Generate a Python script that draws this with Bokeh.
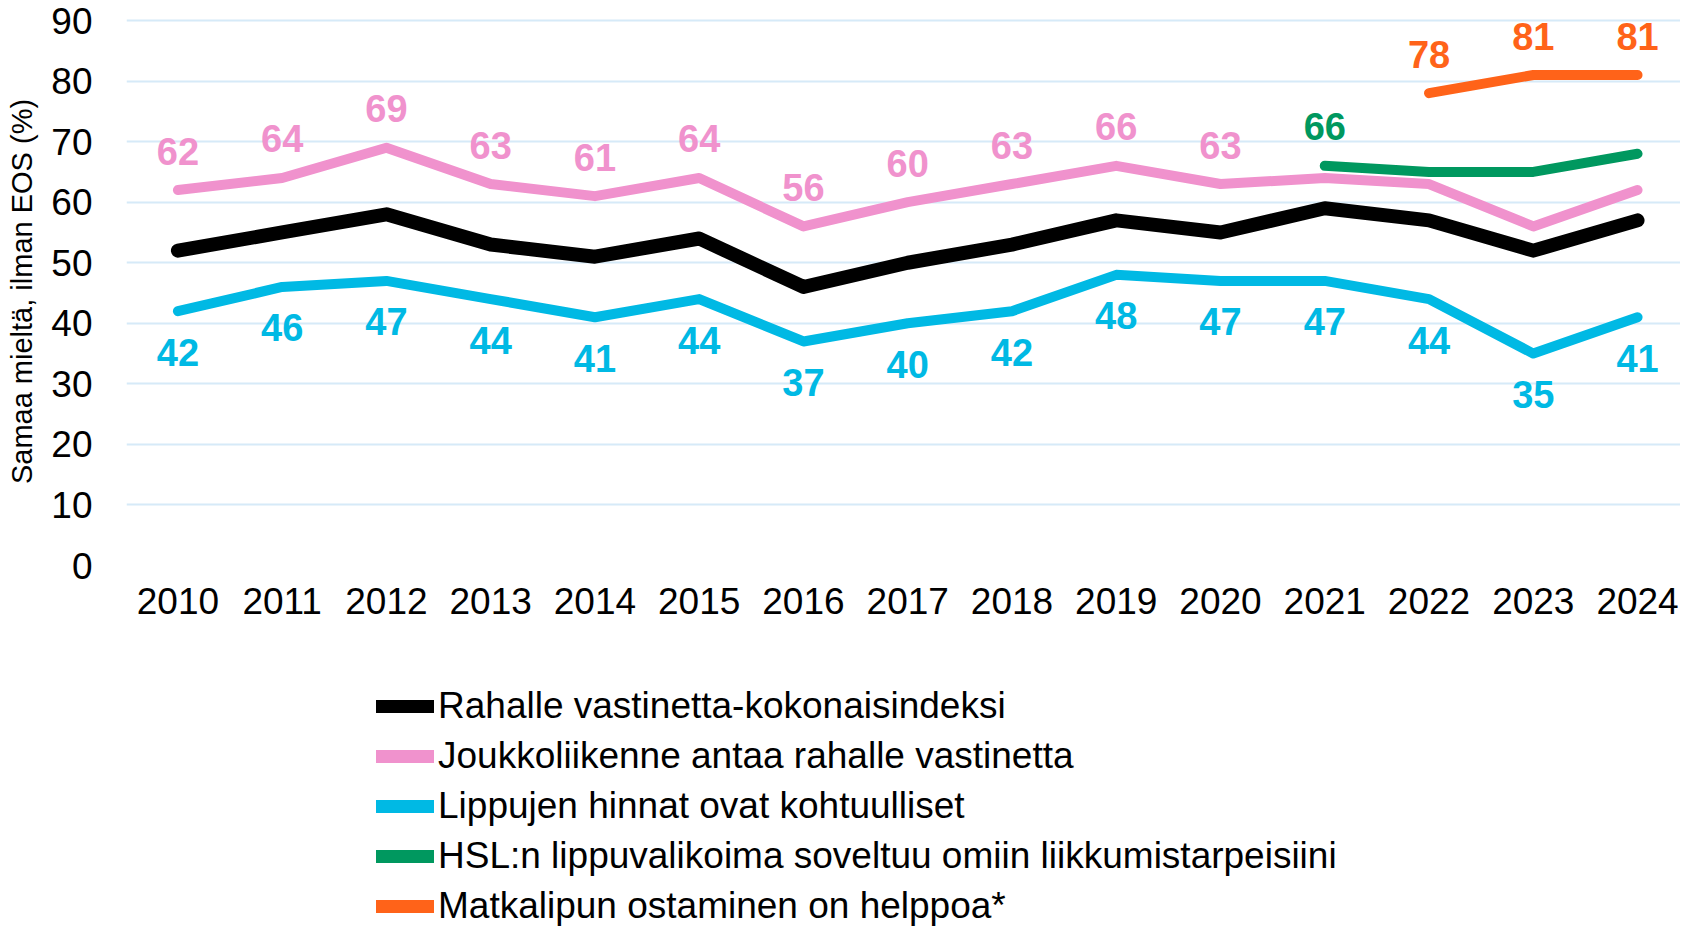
from bokeh.plotting import figure
from bokeh.layouts import column
from bokeh.models import Range1d, FixedTicker, Legend, LegendItem
from bokeh.embed import file_html
from bokeh.resources import INLINE
from bokeh.core.properties import value

# ---- data ----
years = [2010, 2011, 2012, 2013, 2014, 2015, 2016, 2017, 2018, 2019, 2020, 2021, 2022, 2023, 2024]
index_vals = [52, 55, 58, 53, 51, 54, 46, 50, 53, 57, 55, 59, 57, 52, 57]
value_vals = [62, 64, 69, 63, 61, 64, 56, 60, 63, 66, 63, 64, 63, 56, 62]
price_vals = [42, 46, 47, 44, 41, 44, 37, 40, 42, 48, 47, 47, 44, 35, 41]
range_years = [2021, 2022, 2023, 2024]
range_vals = [66, 65, 65, 68]
buy_years = [2022, 2023, 2024]
buy_vals = [78, 81, 81]

value_label_years = years[:11]
value_label_vals = value_vals[:11]
range_label_years = range_years[:1]
range_label_vals = range_vals[:1]

y_ticks = [0, 10, 20, 30, 40, 50, 60, 70, 80, 90]

names = [
    "Rahalle vastinetta-kokonaisindeksi",
    "Joukkoliikenne antaa rahalle vastinetta",
    "Lippujen hinnat ovat kohtuulliset",
    "HSL:n lippuvalikoima soveltuu omiin liikkumistarpeisiini",
    "Matkalipun ostaminen on helppoa*",
]

BLACK = "#000000"
PINK = "#F092CD"
CYAN = "#00B9E4"
GREEN = "#00985F"
ORANGE = "#FF6319"
GRID = "#D6EAF8"
FONT = "Liberation Sans"

series = [
    (years, index_vals, BLACK, 14),
    (years, value_vals, PINK, 10),
    (years, price_vals, CYAN, 10),
    (range_years, range_vals, GREEN, 10),
    (buy_years, buy_vals, ORANGE, 10),
]

W = 1680
p = figure(
    width=W, height=660,
    x_range=Range1d(2009.507, 2024.412),
    y_range=Range1d(0, 90.5),
    output_backend="svg", toolbar_location=None,
    min_border_left=126, min_border_right=0, min_border_top=17, min_border_bottom=95,
)
p.outline_line_color = None
p.background_fill_color = "white"
p.border_fill_color = "white"

p.xgrid.grid_line_color = None
p.ygrid.grid_line_color = GRID
p.ygrid.grid_line_width = 2
p.ygrid.ticker = FixedTicker(ticks=y_ticks)

p.yaxis.ticker = FixedTicker(ticks=y_ticks)
p.xaxis.ticker = FixedTicker(ticks=years)
for ax in (p.xaxis, p.yaxis):
    ax.axis_line_color = None
    ax.major_tick_line_color = None
    ax.minor_tick_line_color = None
    ax.major_tick_out = 0
    ax.major_tick_in = 0
    ax.major_label_text_font = FONT
    ax.major_label_text_font_size = "37px"
    ax.major_label_text_color = "#000000"
p.yaxis.major_label_standoff = 34
p.xaxis.major_label_standoff = 22
p.yaxis.axis_label = "Samaa mieltä, ilman EOS (%)"
p.yaxis.axis_label_text_font = FONT
p.yaxis.axis_label_text_font_size = "29px"
p.yaxis.axis_label_text_font_style = "normal"
p.yaxis.axis_label_text_color = "#000000"
p.yaxis.axis_label_standoff = 10

kw = dict(line_cap="round", line_join="round")
for xs, ys, c, w in series:
    p.line(xs, ys, line_color=c, line_width=w, **kw)

tkw = dict(text_font=value(FONT), text_font_size="38px", text_font_style="bold",
           text_align="center", text_baseline="middle")
p.text(value_label_years, value_label_vals, text=[str(v) for v in value_label_vals],
       text_color=PINK, y_offset=-39, **tkw)
p.text(years, price_vals, text=[str(v) for v in price_vals],
       text_color=CYAN, y_offset=41, **tkw)
p.text(range_label_years, range_label_vals, text=[str(v) for v in range_label_vals],
       text_color=GREEN, y_offset=-39, **tkw)
p.text(buy_years, buy_vals, text=[str(v) for v in buy_vals],
       text_color=ORANGE, y_offset=-39, **tkw)

# ---- legend panel below the chart ----
H2 = 272
q = figure(
    width=W, height=H2, x_range=Range1d(0, 1), y_range=Range1d(0, 1),
    x_axis_type=None, y_axis_type=None,
    output_backend="svg", toolbar_location=None,
    min_border_left=0, min_border_right=0, min_border_top=0, min_border_bottom=0,
)
q.outline_line_color = None
q.xgrid.grid_line_color = None
q.ygrid.grid_line_color = None

items = []
for name, (xs, ys, c, w) in zip(names, series):
    # same series, outside this panel's view: only its legend swatch shows
    r = q.line(xs, ys, line_color=c, line_width=13, **kw)
    items.append(LegendItem(label=name, renderers=[r]))

legend = Legend(
    items=items,
    location=(250, H2 - 271),
    orientation="vertical",
    margin=0, padding=0, spacing=0,
    glyph_width=58, glyph_height=50, label_height=50,
    label_standoff=4,
    label_text_font=FONT, label_text_font_size="37px", label_text_color="#000000",
    border_line_color=None, background_fill_alpha=0,
)
q.add_layout(legend, "center")

layout = column(p, q, spacing=0)
open("out.html", "w").write(file_html(layout, INLINE))
